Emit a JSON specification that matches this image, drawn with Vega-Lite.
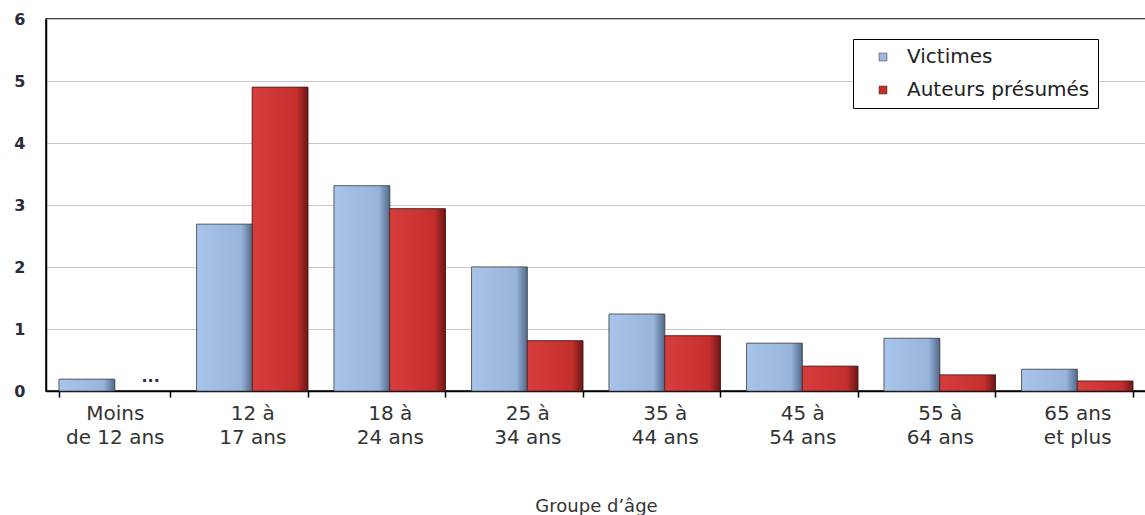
{
  "$schema": "https://vega.github.io/schema/vega-lite/v6.json",
  "width": 1100,
  "height": 372,
  "autosize": {"type": "none"},
  "padding": {"left": 46, "top": 19, "right": 0, "bottom": 124},
  "background": "white",
  "config": {
    "font": "DejaVu Sans",
    "view": {"stroke": "black", "strokeWidth": 1.5}
  },
  "data": {
    "values": [
      {"groupe": "Moins|de 12 ans", "serie": "Victimes", "taux": 0.19},
      {"groupe": "Moins|de 12 ans", "serie": "Auteurs présumés", "taux": null, "note": "..."},
      {"groupe": "12 à|17 ans", "serie": "Victimes", "taux": 2.69},
      {"groupe": "12 à|17 ans", "serie": "Auteurs présumés", "taux": 4.9},
      {"groupe": "18 à|24 ans", "serie": "Victimes", "taux": 3.31},
      {"groupe": "18 à|24 ans", "serie": "Auteurs présumés", "taux": 2.94},
      {"groupe": "25 à|34 ans", "serie": "Victimes", "taux": 2.0},
      {"groupe": "25 à|34 ans", "serie": "Auteurs présumés", "taux": 0.81},
      {"groupe": "35 à|44 ans", "serie": "Victimes", "taux": 1.24},
      {"groupe": "35 à|44 ans", "serie": "Auteurs présumés", "taux": 0.89},
      {"groupe": "45 à|54 ans", "serie": "Victimes", "taux": 0.77},
      {"groupe": "45 à|54 ans", "serie": "Auteurs présumés", "taux": 0.4},
      {"groupe": "55 à|64 ans", "serie": "Victimes", "taux": 0.85},
      {"groupe": "55 à|64 ans", "serie": "Auteurs présumés", "taux": 0.26},
      {"groupe": "65 ans|et plus", "serie": "Victimes", "taux": 0.35},
      {"groupe": "65 ans|et plus", "serie": "Auteurs présumés", "taux": 0.16}
    ]
  },
  "encoding": {
    "x": {
      "field": "groupe",
      "type": "nominal",
      "sort": null,
      "scale": {"paddingInner": 0.19, "paddingOuter": 0.095},
      "axis": {
        "title": "Groupe d’âge",
        "titleFont": "DejaVu Sans",
        "titleFontSize": 18,
        "titleFontWeight": "normal",
        "titleColor": "#333",
        "titlePadding": 50,
        "labelExpr": "split(datum.label, '|')",
        "labelAngle": 0,
        "labelAlign": "center",
        "labelFontSize": 20,
        "labelColor": "#333",
        "labelLineHeight": 24,
        "labelPadding": 6,
        "domainColor": "black",
        "domainWidth": 1.5,
        "tickColor": "black",
        "tickWidth": 1.5,
        "tickSize": 6,
        "tickBand": "extent",
        "grid": false
      }
    },
    "xOffset": {
      "field": "serie",
      "type": "nominal",
      "scale": {"domain": ["Victimes", "Auteurs présumés"], "paddingInner": 0}
    }
  },
  "layer": [
    {
      "mark": {"type": "bar", "stroke": "#3a3a3a", "strokeWidth": 0.6},
      "encoding": {
        "y": {
          "field": "taux",
          "type": "quantitative",
          "scale": {"domain": [0, 6]},
          "axis": {
            "title": null,
            "values": [0, 1, 2, 3, 4, 5, 6],
            "format": "d",
            "labelFontSize": 16,
            "labelFontWeight": "bold",
            "labelColor": "#2b2b3a",
            "labelPadding": 21,
            "ticks": false,
            "domainColor": "black",
            "domainWidth": 1.5,
            "gridColor": "#c8c8c8",
            "gridWidth": 1.2
          }
        },
        "color": {
          "field": "serie",
          "type": "nominal",
          "scale": {"domain": ["Victimes", "Auteurs présumés"], "range": ["#9db8de", "#c62f2e"]},
          "legend": {
            "title": null,
            "orient": "none",
            "legendX": 807,
            "legendY": 20,
            "direction": "vertical",
            "symbolType": "square",
            "symbolSize": 64,
            "symbolOffset": 12,
            "symbolStrokeColor": "#333",
            "symbolStrokeWidth": 0.5,
            "labelFontSize": 20,
            "labelColor": "#222",
            "labelOffset": 14,
            "labelLimit": 400,
            "rowPadding": 13,
            "strokeColor": "black",
            "fillColor": "white",
            "padding": 8,
            "offset": 0
          }
        }
      }
    },
    {
      "transform": [{"filter": "datum.serie === 'Victimes'"}],
      "mark": {
        "type": "bar",
        "stroke": "#3a3a3a",
        "strokeWidth": 0.6,
        "color": {
          "gradient": "linear", "x1": 0, "x2": 1, "y1": 0, "y2": 0,
          "stops": [
            {"offset": 0, "color": "#a9c4ea"},
            {"offset": 0.8, "color": "#98b4da"},
            {"offset": 1, "color": "#52698a"}
          ]
        }
      },
      "encoding": {"y": {"field": "taux", "type": "quantitative"}}
    },
    {
      "transform": [{"filter": "datum.serie === 'Auteurs présumés' && datum.taux != null"}],
      "mark": {
        "type": "bar",
        "stroke": "#3a1010",
        "strokeWidth": 0.6,
        "color": {
          "gradient": "linear", "x1": 0, "x2": 1, "y1": 0, "y2": 0,
          "stops": [
            {"offset": 0, "color": "#d63e3c"},
            {"offset": 0.8, "color": "#c42f2d"},
            {"offset": 1, "color": "#6e1616"}
          ]
        }
      },
      "encoding": {"y": {"field": "taux", "type": "quantitative"}}
    },
    {
      "transform": [{"filter": "datum.note != null"}],
      "mark": {"type": "text", "fontSize": 16, "fontWeight": "bold", "color": "#2b2b3a", "dy": -6, "dx": 8, "baseline": "bottom"},
      "encoding": {
        "y": {"datum": 0, "type": "quantitative"},
        "text": {"field": "note"}
      }
    }
  ]
}
